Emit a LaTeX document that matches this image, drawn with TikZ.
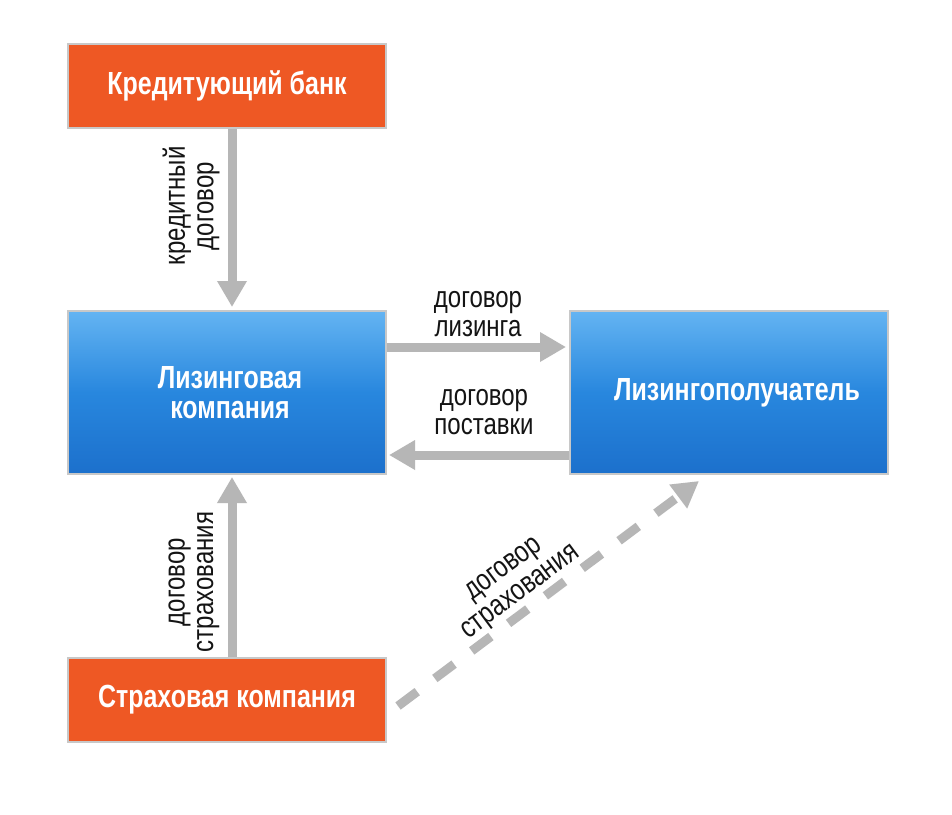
\documentclass[tikz,border=0pt]{standalone}
\usepackage{fontspec}
\setmainfont{Liberation Sans}[FakeStretch=0.8]
\newfontfamily\boxfont{Liberation Sans}[FakeStretch=0.78]
\usetikzlibrary{arrows.meta}
\definecolor{orng}{RGB}{238,88,36}
\definecolor{bluetop}{RGB}{100,180,242}
\definecolor{bluemid}{RGB}{40,135,222}
\definecolor{bluebot}{RGB}{28,112,204}
\definecolor{arrgrey}{RGB}{182,182,182}
\definecolor{bordgrey}{RGB}{200,200,200}
\definecolor{lblcol}{RGB}{20,20,20}
\tikzset{
  orangebox/.style={draw=bordgrey, line width=1.5pt, fill=orng, minimum width=318pt, minimum height=84pt,
    text=white, font=\boxfont\bfseries\fontsize{32}{30}\selectfont, align=center, inner sep=0pt},
  bluebox/.style={draw=bordgrey, line width=1.5pt, top color=bluetop, bottom color=bluebot, middle color=bluemid,
    minimum width=318pt, minimum height=163pt,
    text=white, font=\boxfont\bfseries\fontsize{32}{30}\selectfont, align=center, inner sep=0pt},
  grarrow/.style={draw=arrgrey, line width=9pt, -{Triangle[width=28pt,length=26pt]}},
  lbl/.style={text=lblcol, font=\fontsize{30}{28.5}\selectfont, align=center, inner sep=0pt}
}
\begin{document}
\begin{tikzpicture}[x=1pt,y=-1pt]
\useasboundingbox (0,0) rectangle (952,814);
\fill[white] (0,0) rectangle (952,814);
\node[orangebox] (bank) at (227,86) {Кредитующий банк};
\node[bluebox] (lc) at (227,392.5) {\hspace*{6pt}Лизинговая\\\hspace*{6pt}компания};
\node[bluebox] (lessee) at (729,392.5) {\raisebox{4pt}{\hspace*{16pt}Лизингополучатель}};
\node[orangebox] (ins) at (227,700) {Страховая компания};
\coordinate (a1s) at (232,129);
\coordinate (a1e) at (232,307);
\draw[grarrow] (a1s) -- (a1e);
\coordinate (a2s) at (387,347);
\coordinate (a2e) at (566,347);
\draw[grarrow] (a2s) -- (a2e);
\coordinate (a3s) at (569,455);
\coordinate (a3e) at (389,455);
\draw[grarrow] (a3s) -- (a3e);
\coordinate (a4s) at (232,657);
\coordinate (a4e) at (232,477);
\draw[grarrow] (a4s) -- (a4e);
\coordinate (a5s) at (398,706);
\coordinate (a5e) at (699,481);
\draw[grarrow, dash pattern=on 24pt off 22pt] (a5s) -- (a5e);
\node[lbl, rotate=90] (l1) at (191,206) {кредитный\\договор};
\node[lbl] (l2) at (478,314) {договор\\лизинга};
\node[lbl] (l3) at (484,412) {договор\\поставки};
\node[lbl, rotate=90] (l4) at (194,582) {договор\\страхования};
\node[lbl, rotate=36.7] (l5) at (513,582) {договор\\страхования};
\end{tikzpicture}
\end{document}
